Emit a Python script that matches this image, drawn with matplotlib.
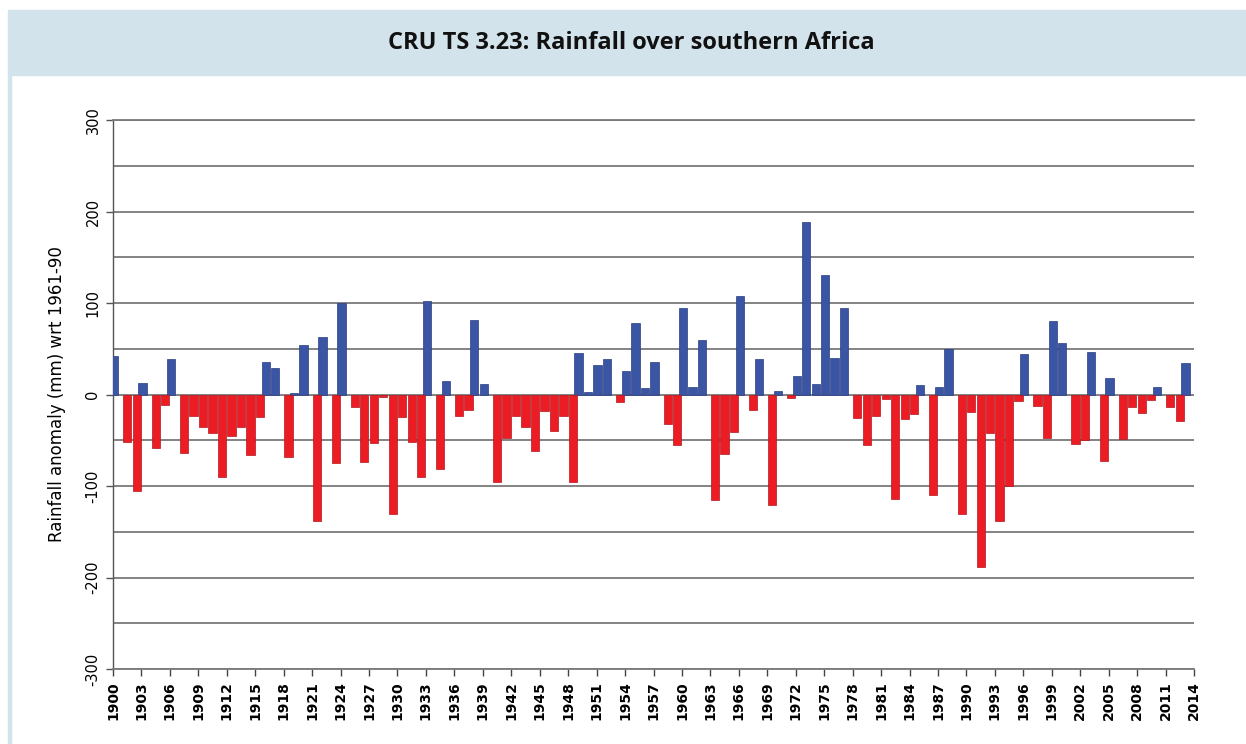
"""CRU TS 3.23 남부 아프리카 강수 편차 막대그래프 (1961-90 기준)."""
import numpy as np
import matplotlib
matplotlib.use("Agg")
import matplotlib.pyplot as plt
from matplotlib.patches import Rectangle

# 연도별 편차 (mm) — 1900..2013
YEARS = list(range(1900, 2014))
ANOMALY = [
    42, -52, -105, 13, -59, -11, 39, -64, -23, -35,
    -42, -90, -45, -35, -66, -25, 35, 29, -68, 2,
    54, -138, 63, -75, 100, -14, -74, -53, -3, -131,
    -25, -52, -90, 102, -81, 15, -23, -17, 81, 12,
    -96, -48, -24, -36, -62, -18, -40, -24, -96, 45,
    3, 32, 39, -8, 26, 78, 7, 36, -32, -55,
    94, 8, 60, -115, -65, -41, 108, -17, 39, -121,
    4, -4, 20, 189, 12, 131, 40, 95, -26, -55,
    -23, -5, -114, -27, -21, 10, -110, 8, 50, -131,
    -19, -189, -42, -138, -100, -7, 44, -13, -47, 80,
    56, -54, -50, 46, -73, 18, -49, -14, -20, -6,
    8, -14, -29, 34,
]
TICK_LABELS = [str(y) for y in range(1900, 2015, 3)]
Y_TICKS = [-300, -200, -100, 0, 100, 200, 300]
Y_GRID = [-250, -150, -50, 50, 150, 250]

TITLE = "CRU TS 3.23: Rainfall over southern Africa"
YLABEL = "Rainfall anomaly (mm) wrt 1961-90"

BLUE, BLUE_EDGE = "#3b55a5", "#2a3d82"
RED, RED_EDGE = "#ec1c24", "#b4161c"
HEADER = "#d2e3ec"
GRID = "#7a7a7a"

W, H = 1246, 744
fig = plt.figure(figsize=(W / 100, H / 100), dpi=100)
fig.patch.set_facecolor("white")

# 상단 헤더 띠 + 왼쪽 테두리
fig.patches.append(Rectangle((8 / W, 1 - 75 / H), 1, 65 / H, transform=fig.transFigure,
                             color=HEADER, zorder=0))
fig.patches.append(Rectangle((8 / W, 0), 3 / W, 1 - 75 / H, transform=fig.transFigure,
                             color=HEADER, zorder=0))
fig.text(631 / W, 1 - 43 / H, TITLE, ha="center", va="center", fontsize=17,
         fontweight="bold", family=["Open Sans", "DejaVu Sans"], color="#111111")

ax = fig.add_axes([113 / W, 1 - 669 / H, (1194 - 113) / W, (669 - 120) / H])
vals = np.array(ANOMALY)
x = np.arange(len(vals)) + 0.5
pos = vals >= 0
ax.bar(x[pos] - 0.4, vals[pos], width=0.87, color=BLUE, edgecolor=BLUE_EDGE,
       linewidth=0.5, zorder=3)
ax.bar(x[~pos], vals[~pos], width=0.87, color=RED, edgecolor=RED_EDGE,
       linewidth=0.5, zorder=3)

ax.set_xlim(0, len(vals))
ax.set_ylim(-300, 300)

ax.set_yticks(Y_TICKS)
ax.set_yticks(Y_GRID, minor=True)
ax.set_yticklabels([str(v) for v in Y_TICKS], rotation=90, va="center",
                   fontsize=10.5, family="DejaVu Sans")
ax.tick_params(axis="y", which="major", length=5, width=1, color="#555555", pad=4)
ax.tick_params(axis="y", which="minor", length=0)
ax.yaxis.grid(True, which="both", color=GRID, linewidth=1.3, zorder=0)
ax.set_axisbelow(True)

ax.set_xticks(np.arange(0, len(vals) + 1, 3))
ax.set_xticklabels(TICK_LABELS, rotation=90, fontsize=10, fontweight="bold",
                   family="DejaVu Sans")
ax.tick_params(axis="x", length=5, width=1, color="#444444", pad=4)

ax.set_ylabel(YLABEL, fontsize=12, family="DejaVu Sans", va="center")
ax.yaxis.set_label_coords(-0.052, 0.5)

ax.spines["right"].set_visible(False)
for s in ("top", "bottom"):
    ax.spines[s].set_color(GRID)
    ax.spines[s].set_linewidth(1.3)
ax.spines["left"].set_color("#555555")
ax.spines["left"].set_linewidth(1)

fig.savefig("out.png", dpi=100, facecolor="white")
